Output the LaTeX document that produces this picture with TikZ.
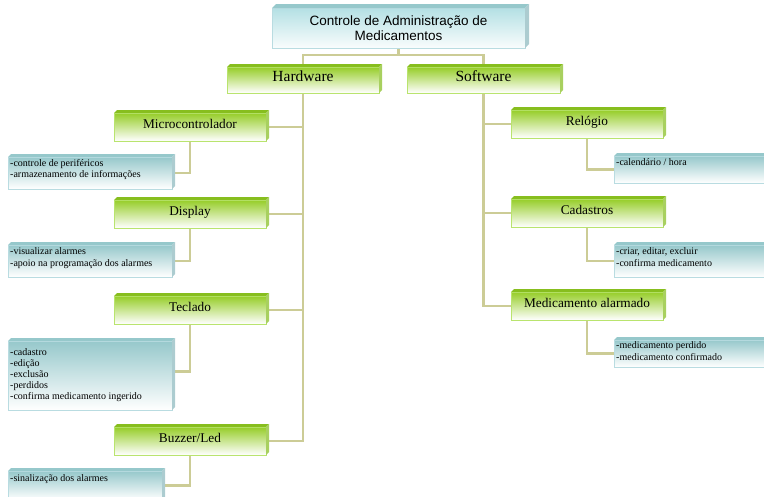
\documentclass[tikz,border=0pt]{standalone}
\usepackage{fontspec}
\setmainfont{Liberation Serif}
\newfontfamily\titlefont{Liberation Sans}
\usetikzlibrary{backgrounds}
\definecolor{grn}{RGB}{150,205,40}
\definecolor{grnt}{RGB}{135,190,30}
\definecolor{grnb}{RGB}{185,228,110}
\definecolor{grns}{RGB}{168,208,95}
\definecolor{blu}{RGB}{150,200,203}
\definecolor{blub}{RGB}{185,220,225}
\definecolor{blus}{RGB}{172,204,208}
\definecolor{ttl}{RGB}{180,224,228}
\definecolor{linkc}{RGB}{204,204,150}
\newcommand\sidesG[2]{%
  \fill[grnt] (#1.north west) -- ++(#2,-#2) -- ([shift={(#2,-#2)}]#1.north east) -- (#1.north east) -- cycle;
  \fill[grns] (#1.north east) -- ([shift={(#2,-#2)}]#1.north east) -- ([shift={(#2,-#2)}]#1.south east) -- (#1.south east) -- cycle;}
\newcommand\sidesB[2]{%
  \fill[blu] (#1.north west) -- ++(#2,-#2) -- ([shift={(#2,-#2)}]#1.north east) -- (#1.north east) -- cycle;
  \fill[blus] (#1.north east) -- ([shift={(#2,-#2)}]#1.north east) -- ([shift={(#2,-#2)}]#1.south east) -- (#1.south east) -- cycle;}
\begin{document}
\begin{tikzpicture}[x=1pt,y=-1pt,
  gbox/.style={draw=grnb, line width=0.8pt, top color=grn, bottom color=white, inner sep=0pt, outer sep=0pt,
    minimum width=152pt, minimum height=28pt, font=\fontsize{13.3}{15}\selectfont, text height=9pt, text depth=6pt},
  hbox/.style={gbox, minimum height=26pt, font=\fontsize{15.5}{17}\selectfont, text height=10pt, text depth=7pt},
  tbox/.style={draw=blub, line width=0.8pt, top color=ttl, bottom color=white!92!ttl, inner sep=0pt, outer sep=0pt,
    minimum width=253pt, minimum height=40pt, align=center, font=\titlefont\fontsize{13.5}{15.5}\selectfont},
  dbox/.style={draw=blub, line width=0.8pt, top color=blu, bottom color=white, inner sep=0pt, outer sep=0pt},
  dtext/.style={font=\fontsize{10}{11.5}\selectfont, align=left, inner sep=0pt, anchor=north west},
  stext/.style={font=\fontsize{10}{11.5}\selectfont, inner sep=0pt, anchor=base west},
  link/.style={draw=linkc, line width=2.6pt}]
\clip (0,0) rectangle (764,496);
% top level
\node[tbox] (title) at (398.5,28) {Controle de Administração de\\Medicamentos};
\node[hbox] (hw) at (303,80) {Hardware};
\node[hbox, minimum width=153pt] (sw) at (483.5,80) {Software};
% hardware children
\node[gbox] (micro) at (190,127) {Microcontrolador};
\node[gbox] (disp) at (190,214) {Display};
\node[gbox] (tecl) at (190,310) {Teclado};
\node[gbox] (buzz) at (190,441) {Buzzer/Led};
% software children
\node[gbox] (rel) at (587,124) {Relógio};
\node[gbox] (cad) at (587,213) {Cadastros};
\node[gbox] (med) at (587,306) {Medicamento alarmado};
% description boxes
\node[dbox, minimum width=164pt, minimum height=32pt] (d1) at (90,173) {};
\node[dbox, minimum width=164pt, minimum height=32pt] (d2) at (90,261) {};
\node[dbox, minimum width=164pt, minimum height=69pt] (d3) at (90,375.5) {};
\node[dbox, minimum width=154pt, minimum height=29pt] (d4) at (85,485.5) {};
\node[dbox, minimum width=186pt, minimum height=27pt] (d5) at (707,169.5) {};
\node[dbox, minimum width=186pt, minimum height=32pt] (d6) at (707,261) {};
\node[dbox, minimum width=186pt, minimum height=27pt] (d7) at (707,353.5) {};
% 3d faces
\sidesB{title}{4}
\foreach \n in {hw,sw,micro,disp,tecl,buzz,rel,cad,med} {\sidesG{\n}{3}}
\foreach \n in {d1,d2,d3,d4,d5,d6,d7} {\sidesB{\n}{3}}
% texts
\node[dtext] (t1) at (10,157.95) {\strut-controle de periféricos\\-armazenamento de informações};
\node[dtext] (t2) at (10,246.45) {\strut-visualizar alarmes\\-apoio na programação dos alarmes};
\node[dtext, font=\fontsize{10}{10.9}\selectfont] (t3) at (10,347.87) {\strut-cadastro\\-edição\\-exclusão\\-perdidos\\-confirma medicamento ingerido};
\node[stext] (t4) at (10,481) {-sinalização dos alarmes};
\node[stext] (t5) at (616,165.5) {-calendário / hora};
\node[dtext] (t6) at (616,246.45) {\strut-criar, editar, excluir\\-confirma medicamento};
\node[dtext] (t7) at (616,340.45) {\strut-medicamento perdido\\-medicamento confirmado};
% connectors
\begin{scope}[on background layer]
\coordinate (bus) at (398.5,55);
\draw[link] (title.south) -- (bus);
\draw[link] (bus) -| (hw.north);
\draw[link] (bus) -| (sw.north);
\draw[link] (hw.south) |- (buzz.east);
\draw[link] (micro.east) -- (micro.east -| hw.south);
\draw[link] (disp.east) -- (disp.east -| hw.south);
\draw[link] (tecl.east) -- (tecl.east -| hw.south);
\draw[link] (sw.south) |- (med.west);
\draw[link] (rel.west) -- (rel.west -| sw.south);
\draw[link] (cad.west) -- (cad.west -| sw.south);
\draw[link] (micro.south) |- (d1.east);
\draw[link] (disp.south) |- (d2.east);
\draw[link] (tecl.south) |- ([yshift=4pt]d3.east);
\draw[link] (buzz.south) |- (d4.east);
\draw[link] (rel.south) |- (d5.west);
\draw[link] (cad.south) |- (d6.west);
\draw[link] (med.south) |- (d7.west);
\end{scope}
\end{tikzpicture}
\end{document}
